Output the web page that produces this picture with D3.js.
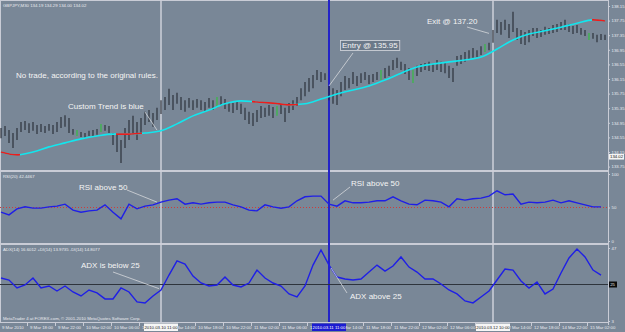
<!DOCTYPE html>
<html lang="en">
<head>
<meta charset="utf-8">
<title>GBPJPY,M30</title>
<style>
  body { margin: 0; background: #798797; }
  svg { display: block; font-family: "Liberation Sans", Arial, sans-serif; }
  .frame { stroke: #c9ccd6; }
  .bar { stroke: #262a32; stroke-width: 1.1; }
  .bar.signal { stroke: #2fc23a; }
  .tiny { font-size: 4.3px; fill: #e9ebf0; }
  .note { font-size: 8px; fill: #f4f4f4; }
  .leader { stroke: #d6d8dc; stroke-width: 0.8; }
  .axis path { display: none; }
  .axis line { stroke: #c9ccd6; }
  .axis text { font-size: 4.3px; fill: #e9ebf0; font-family: "Liberation Sans", Arial, sans-serif; }
</style>
</head>
<body>
<svg class="chart" width="625" height="332"></svg>
<script src="https://d3js.org/d3.v7.min.js"></script>
<script>
// ---- data ----
// bar highs / lows (one bar per step, M30)
var barHigh = [
  134.81,134.86,134.75,134.67,134.81,134.97,135.00,134.94,134.97,134.89,
  134.92,134.86,134.92,134.89,134.97,135.11,135.16,135.08,134.78,134.75,
  134.70,134.67,134.73,134.75,134.78,134.92,134.89,134.86,134.67,134.62,
  134.48,134.81,135.03,135.14,134.97,135.08,135.25,135.30,135.22,135.36,
  135.57,135.66,135.88,135.71,135.77,135.66,135.57,135.63,135.57,135.60,
  135.57,135.52,135.63,135.57,135.66,135.68,135.60,135.52,135.49,135.55,
  135.47,135.36,135.25,135.22,135.30,135.41,135.36,135.44,135.38,135.41,
  135.47,135.36,135.49,135.57,135.66,135.90,136.07,136.18,136.26,136.40,
  136.34,136.31,135.96,135.90,135.85,136.07,136.23,136.18,136.34,136.23,
  136.31,136.34,136.26,136.29,136.34,136.40,136.45,136.51,136.67,136.73,
  136.62,136.56,136.45,136.40,136.51,136.56,136.59,136.62,136.56,136.67,
  136.62,136.59,136.51,136.45,136.78,136.81,136.89,136.94,137.00,136.94,
  137.05,137.11,137.14,137.49,137.77,137.71,137.77,137.66,137.99,137.55,
  137.49,137.44,137.49,137.55,137.55,137.49,137.58,137.55,137.63,137.66,
  137.71,137.77,137.66,137.60,137.63,137.55,137.49,137.41,137.41,137.36,
  137.38,137.36
];
var barLow = [
  134.53,134.59,134.40,134.26,134.48,134.70,134.75,134.67,134.73,134.64,
  134.70,134.67,134.73,134.64,134.70,134.81,134.84,134.67,134.62,134.59,
  134.56,134.53,134.59,134.59,134.62,134.70,134.73,134.67,134.34,134.15,
  133.85,134.26,134.48,134.62,134.48,134.67,134.89,134.97,134.84,135.03,
  135.19,135.30,135.44,135.30,135.47,135.30,135.25,135.36,135.30,135.36,
  135.30,135.25,135.36,135.30,135.36,135.41,135.33,135.25,135.22,135.30,
  135.19,135.03,134.92,134.86,134.97,135.08,135.11,135.14,135.08,135.14,
  135.19,134.97,135.22,135.30,135.41,135.57,135.68,135.80,135.90,136.12,
  136.07,136.12,135.57,135.47,135.44,135.68,135.85,135.90,136.01,135.96,
  136.04,136.12,136.01,136.07,136.12,136.12,136.18,136.23,136.40,136.45,
  136.40,136.29,136.12,136.04,136.23,136.34,136.40,136.37,136.34,136.40,
  136.34,136.31,136.18,136.07,136.51,136.56,136.62,136.67,136.73,136.75,
  136.81,136.89,136.94,137.14,137.41,137.36,137.49,137.27,137.44,137.22,
  137.11,137.08,137.16,137.33,137.27,137.30,137.36,137.38,137.41,137.44,
  137.49,137.49,137.44,137.38,137.41,137.36,137.33,137.22,137.25,137.16,
  137.22,137.22
];
// bars painted green by the signal indicator
var signalBars = [19, 25, 54, 69, 95, 103, 121, 147];

// Custom Trend value every 4th bar, and the stretches where it is red
var trendStep = 4;
var trendValues = [
  134.15,134.07,134.15,134.29,134.40,134.51,134.59,134.64,134.64,134.67,
  134.73,134.92,135.14,135.30,135.47,135.55,135.52,135.49,135.44,135.47,
  135.60,135.74,135.85,135.96,136.12,136.31,136.48,136.56,136.62,136.67,
  136.75,136.97,137.22,137.38,137.47,137.57,137.68,137.77,137.74
];
var trendRed = [[0, 4.5], [29, 35], [63, 74], [148, 151]];

// RSI(20) and ADX(14), one value every 2nd bar
var indStep = 2;
var rsiValues = [
  43,39,48,51,49,49,51,52,55,46, 43,45,46,54,43,33,55,48,52,54,
  58,61,63,55,57,55,57,58,58,54, 51,46,45,54,51,49,51,60,66,67,
  67,55,52,60,57,57,58,60,60,66, 60,55,54,61,60,58,51,63,61,63,
  64,67,75,69,70,55,58,57,58,61, 57,60,57,54,51,51
];
var adxValues = [
  28.9,27.7,22.9,24.7,28.9,22.9,24.1,21.1,24.1,20.5, 18.1,21.7,19.9,16.3,16.3,22.9,20.5,14.5,13.9,18.1,
  21.7,30.7,39.2,37.3,30.1,25.9,24.1,24.7,29.5,24.7, 23.5,25.9,33.7,28.9,25.9,24.1,19.3,17.5,24.1,36.7,
  45.8,36.7,29.5,28.3,27.7,28.3,32.5,36.7,33.1,36.1, 41.6,35.5,32.5,28.3,28.3,25.3,21.7,19.3,15.1,13.9,
  17.5,21.1,27.7,34.3,33.7,27.1,22.9,26.5,19.3,22.3, 31.9,41.0,46.4,41.6,33.7,30.7
];

// axis ticks
var priceTicks = [138.15,137.75,137.35,136.95,136.55,136.15,135.75,135.35,134.95,134.55,134.15,133.75];
var timeLabels = ['9 Mar 2010','9 Mar 18:00','9 Mar 22:00','10 Mar 02:00','10 Mar 06:00','10 Mar 10:00',
  '10 Mar 14:00','10 Mar 18:00','10 Mar 22:00','11 Mar 02:00','11 Mar 06:00','11 Mar 10:00',
  '11 Mar 14:00','11 Mar 18:00','11 Mar 22:00','12 Mar 02:00','12 Mar 06:00','12 Mar 10:00',
  '12 Mar 14:00','12 Mar 18:00','14 Mar 22:00','15 Mar 02:00'];
// vertical marker lines (bar index) and their time boxes
var markerBars = [40, 82, 123];
var markerTimes = ['2010.03.10 11:00', '2010.03.11 11:00', '2010.03.12 10:00'];
var markerBlue = [false, true, false];

// ---- layout ----
var svg = d3.select('.chart'),
    W = +svg.attr('width'),
    H = +svg.attr('height'),
    axisX = 608,
    bottomY = 322,
    boxHalf = 17;

var x = d3.scaleLinear().domain([0, 151]).range([1, 605]),
    yPrice = d3.scaleLinear().domain([133.75, 138.15]).range([166.6, 6]),
    yRsi = d3.scaleLinear().domain([0, 100]).range([241, 174]),
    yAdx = d3.scaleLinear().domain([3, 47]).range([321, 248]),
    xTime = d3.scaleLinear().domain([0, 21]).range([2, 590]);

svg.append('rect').attr('width', W).attr('height', H).attr('fill', '#798797');

// clip regions for the three panes
var defs = svg.append('defs');
[['clipMain', 2, 170], ['clipRsi', 172, 243], ['clipAdx', 245, 321]].forEach(function(p) {
  defs.append('clipPath').attr('id', p[0])
    .append('rect').attr('x', 0).attr('y', p[1]).attr('width', axisX).attr('height', p[2] - p[1]);
});
trendRed.forEach(function(r, i) {
  defs.append('clipPath').attr('id', 'red' + i)
    .append('rect').attr('x', x(r[0]) - 1).attr('y', 0)
    .attr('width', x(r[1]) - x(r[0]) + 2).attr('height', 170);
});
// time labels are hidden under the marker boxes
var gaps = [0].concat(markerBars.map(function(b) { return x(b); }));
var timeClip = defs.append('clipPath').attr('id', 'clipTime');
gaps.forEach(function(g, i) {
  var a = i ? g + boxHalf : 0,
      b = i < gaps.length - 1 ? gaps[i + 1] - boxHalf : W;
  timeClip.append('rect').attr('x', a).attr('y', bottomY).attr('width', b - a).attr('height', 10);
});

// frame and pane separators
svg.append('line').attr('class', 'frame').attr('x1', 0).attr('x2', axisX).attr('y1', 0.5).attr('y2', 0.5);
svg.append('line').attr('class', 'frame').attr('x1', 0.5).attr('x2', 0.5).attr('y1', 0).attr('y2', bottomY);
[171, 244].forEach(function(yy) {
  svg.append('line').attr('class', 'frame').attr('stroke-width', 2)
    .attr('x1', 0).attr('x2', axisX).attr('y1', yy).attr('y2', yy);
});
svg.append('line').attr('class', 'frame').attr('x1', 0).attr('x2', axisX).attr('y1', bottomY + 0.5).attr('y2', bottomY + 0.5);
svg.append('line').attr('class', 'frame').attr('x1', axisX + 0.5).attr('x2', axisX + 0.5).attr('y1', 0).attr('y2', bottomY + 3);

// vertical marker lines
svg.selectAll('.vline').data(markerBars).enter().append('line')
  .attr('class', 'vline')
  .attr('x1', function(d) { return x(d); }).attr('x2', function(d) { return x(d); })
  .attr('y1', 0).attr('y2', bottomY)
  .attr('stroke', function(d, i) { return markerBlue[i] ? '#2323c8' : '#ced1da'; })
  .attr('stroke-width', function(d, i) { return markerBlue[i] ? 2 : 1.5; });

// ---- main pane ----
var gMain = svg.append('g').attr('clip-path', 'url(#clipMain)');

gMain.selectAll('.bar').data(barHigh).enter().append('line')
  .attr('class', function(d, i) { return signalBars.indexOf(i) >= 0 ? 'bar signal' : 'bar'; })
  .attr('x1', function(d, i) { return x(i); }).attr('x2', function(d, i) { return x(i); })
  .attr('y1', function(d) { return yPrice(d); })
  .attr('y2', function(d, i) { return yPrice(barLow[i]); });

var trendLine = d3.line()
  .curve(d3.curveMonotoneX)
  .x(function(d, i) { return x(Math.min(i * trendStep, 151)); })
  .y(function(d) { return yPrice(d); });

gMain.append('path').datum(trendValues)
  .attr('d', trendLine).attr('fill', 'none').attr('stroke', '#12e6ee').attr('stroke-width', 1.6);
trendRed.forEach(function(r, i) {
  gMain.append('path').datum(trendValues)
    .attr('clip-path', 'url(#red' + i + ')')
    .attr('d', trendLine).attr('fill', 'none').attr('stroke', '#ee1c1c').attr('stroke-width', 1.6);
});

// price axis
svg.append('g').attr('class', 'axis')
  .attr('transform', 'translate(' + axisX + ',0)')
  .call(d3.axisRight(yPrice).tickValues(priceTicks).tickSize(2).tickPadding(1.5).tickFormat(d3.format('.2f')));

// current price box
svg.append('rect').attr('x', axisX + 1).attr('y', yPrice(134.02) - 2.8).attr('width', 15).attr('height', 5.6).attr('fill', '#f4f4f4');
svg.append('text').attr('class', 'tiny').attr('x', axisX + 2).attr('y', yPrice(134.02) + 1.6)
  .style('fill', '#111').text('134.02');

svg.append('text').attr('class', 'tiny').attr('x', 3).attr('y', 6.5).text('GBPJPY,M30 134.19 134.29 134.00 134.02');

// ---- RSI pane ----
var gRsi = svg.append('g').attr('clip-path', 'url(#clipRsi)');
gRsi.append('line').attr('x1', 0).attr('x2', axisX).attr('y1', yRsi(50)).attr('y2', yRsi(50))
  .attr('stroke', '#d03a3a').attr('stroke-dasharray', '1,2');
gRsi.append('path').datum(rsiValues)
  .attr('fill', 'none').attr('stroke', '#1f1fe6').attr('stroke-width', 1.4)
  .attr('d', d3.line().x(function(d, i) { return x(i * indStep); }).y(function(d) { return yRsi(d); }));

svg.append('g').attr('class', 'axis')
  .attr('transform', 'translate(' + axisX + ',0)')
  .call(d3.axisRight(yRsi).tickValues([100, 50, 0]).tickSize(2).tickPadding(1.5));
svg.append('text').attr('class', 'tiny').attr('x', 3).attr('y', 177.5).text('RSI(20) 42.4467');

// ---- ADX pane ----
var gAdx = svg.append('g').attr('clip-path', 'url(#clipAdx)');
gAdx.append('line').attr('x1', 0).attr('x2', axisX).attr('y1', yAdx(25)).attr('y2', yAdx(25))
  .attr('stroke', '#2e343c').attr('stroke-width', 1);
gAdx.append('path').datum(adxValues)
  .attr('fill', 'none').attr('stroke', '#1f1fe6').attr('stroke-width', 1.4)
  .attr('d', d3.line().x(function(d, i) { return x(i * indStep); }).y(function(d) { return yAdx(d); }));

svg.append('g').attr('class', 'axis')
  .attr('transform', 'translate(' + axisX + ',0)')
  .call(d3.axisRight(yAdx).tickValues([47, 3]).tickSize(2).tickPadding(1.5));
svg.append('rect').attr('x', axisX + 1).attr('y', yAdx(25) - 3).attr('width', 8).attr('height', 6).attr('fill', '#0a0a0a');
svg.append('text').attr('class', 'tiny').attr('x', axisX + 2.2).attr('y', yAdx(25) + 1.6).text('25');

svg.append('text').attr('class', 'tiny').attr('x', 3).attr('y', 250.5)
  .text('ADX(14) 16.6012 +DI(14) 13.9735 -DI(14) 14.8077');
svg.append('text').attr('class', 'tiny').attr('x', 3).attr('y', 319.5)
  .text('MetaTrader 4 at FOREX.com, \u00a9 2001-2010 MetaQuotes Software Corp.');

// ---- time axis ----
var gTime = svg.append('g').attr('clip-path', 'url(#clipTime)');
gTime.selectAll('.tick').data(timeLabels).enter().append('line')
  .attr('x1', function(d, i) { return xTime(i) - 2.5; }).attr('x2', function(d, i) { return xTime(i) - 2.5; })
  .attr('y1', bottomY).attr('y2', bottomY + 4)
  .attr('stroke', function(d, i) { return i ? '#c9ccd6' : 'none'; });
gTime.selectAll('text').data(timeLabels).enter().append('text')
  .attr('class', 'tiny')
  .attr('x', function(d, i) { return xTime(i); })
  .attr('y', 328.5)
  .text(function(d) { return d; });

markerBars.forEach(function(b, i) {
  var cx = x(b);
  svg.append('rect').attr('x', cx - boxHalf).attr('y', bottomY + 1.5).attr('width', boxHalf * 2).attr('height', 7.5)
    .attr('fill', markerBlue[i] ? '#1c1cd0' : '#f6f6f6');
  svg.append('text').attr('class', 'tiny').attr('x', cx).attr('y', 328.5).attr('text-anchor', 'middle')
    .style('fill', markerBlue[i] ? '#ffffff' : '#1a1a1a').text(markerTimes[i]);
});

// ---- annotations ----
var notes = [
  { text: 'No trade, according to the original rules.', tx: 16, ty: 78 },
  { text: 'Custom Trend is blue', tx: 68, ty: 109, from: [145, 112], to: [39, 134.75], scale: yPrice },
  { text: 'Entry @ 135.95', tx: 342, ty: 48, box: true, from: [353, 53], to: [82, 135.96], scale: yPrice },
  { text: 'Exit @ 137.20', tx: 427, ty: 24, from: [467, 27], to: [122, 137.40], scale: yPrice },
  { text: 'RSI above 50', tx: 79, ty: 190, from: [127, 190], to: [39, 58], scale: yRsi },
  { text: 'RSI above 50', tx: 351, ty: 186, from: [350, 187], to: [83, 61], scale: yRsi },
  { text: 'ADX is below 25', tx: 81, ty: 268, from: [113, 272], to: [39.5, 22.5], scale: yAdx },
  { text: 'ADX above 25', tx: 350, ty: 299, from: [347, 293], to: [82.5, 35], scale: yAdx }
];

notes.forEach(function(n) {
  if (n.from) {
    svg.append('line').attr('class', 'leader')
      .attr('x1', n.from[0]).attr('y1', n.from[1])
      .attr('x2', x(n.to[0])).attr('y2', n.scale(n.to[1]));
  }
  var t = svg.append('text').attr('class', 'note').attr('x', n.tx).attr('y', n.ty).text(n.text);
  if (n.box) {
    var bb = t.node().getBBox();
    svg.insert('rect', 'text.note')
      .attr('x', bb.x - 1.5).attr('y', bb.y - 0.5).attr('width', bb.width + 3).attr('height', bb.height + 1)
      .attr('fill', '#6b7989').attr('stroke', '#d8dae0').attr('stroke-width', 0.8);
  }
});
</script>
</body>
</html>
